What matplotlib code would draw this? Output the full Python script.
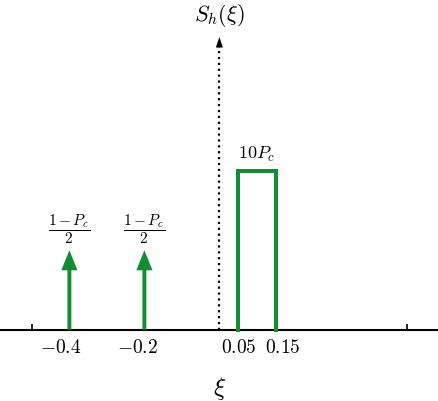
import matplotlib
matplotlib.use("Agg")
import matplotlib.pyplot as plt
import matplotlib.transforms as mtransforms

plt.rcParams["mathtext.fontset"] = "cm"
plt.rcParams["font.family"] = "DejaVu Serif"

# impulses (Dirac deltas) and the rectangular part of S_h(xi)
impulse_x = [-0.4, -0.2]
impulse_h = [0.5, 0.5]
impulse_labels = [r"$\dfrac{1-P_c}{2}$", r"$\dfrac{1-P_c}{2}$"]

rect_x = [0.05, 0.15]
rect_h = 1.0
rect_label = r"$10P_c$"

tick_vals = [-0.4, -0.2, 0.05, 0.15]
tick_labels = [r"$-0.4$", r"$-0.2$", r"$0.05$", r"$0.15$"]
minor_ticks = [-0.5, 0.5]

axis_top = 1.84
GREEN = "#138d31"

fig = plt.figure(figsize=(4.38, 4.02), dpi=100)
ax = fig.add_axes([0, 0, 1, 1])
ax.set_xlim(-0.585, 0.583)
ax.set_ylim(-0.448, 2.08)

# x axis through y = 0
for s in ["top", "right", "left"]:
    ax.spines[s].set_visible(False)
ax.spines["bottom"].set_position(("data", 0))
ax.spines["bottom"].set_linewidth(1.5)
ax.spines["bottom"].set_zorder(1)
ax.set_yticks([])
ax.set_xticks(tick_vals)
ax.set_xticklabels(tick_labels, fontsize=14)
ax.tick_params(axis="x", which="major", length=0, pad=6)
ax.set_xticks(minor_ticks, minor=True)
ax.tick_params(axis="x", which="minor", direction="in", length=4, width=1.2)

# nudge labels like in the original (digits centred, minus hanging left)
label_shift = [-9, -7, 1, 7]
for lab, dx in zip(ax.get_xticklabels(), label_shift):
    lab.set_transform(lab.get_transform() +
                      mtransforms.ScaledTranslation(dx / 100, 0, fig.dpi_scale_trans))

# dotted vertical axis with arrow head
ax.plot([0, 0], [0, axis_top - 0.06], color="black", lw=1.6, ls=":", zorder=2)
ax.arrow(0, axis_top - 0.07, 0, 0.07, width=0.0001, head_width=0.019,
         head_length=0.065, length_includes_head=True, color="black", lw=0)

# impulses
for x, h, lab in zip(impulse_x, impulse_h, impulse_labels):
    ax.arrow(x, 0, 0, h, width=0.0105, head_width=0.043, head_length=0.126,
             length_includes_head=True, color=GREEN, lw=0, zorder=3)
    ax.text(x, h + 0.14, lab, fontsize=11, ha="center", va="center")

# rectangle
ax.plot([rect_x[0], rect_x[0], rect_x[1], rect_x[1]], [0, rect_h, rect_h, 0],
        color=GREEN, lw=2.9, solid_joinstyle="miter", zorder=3)
ax.text(sum(rect_x) / 2, rect_h + 0.05, rect_label, fontsize=13,
        ha="center", va="bottom")

# axis labels
ax.text(0, -0.365, r"$\xi$", fontsize=18, ha="center", va="center")
ax.text(0, 1.985, r"$S_h(\xi)$", fontsize=16, ha="center", va="center")

fig.savefig("out.png", dpi=100)
